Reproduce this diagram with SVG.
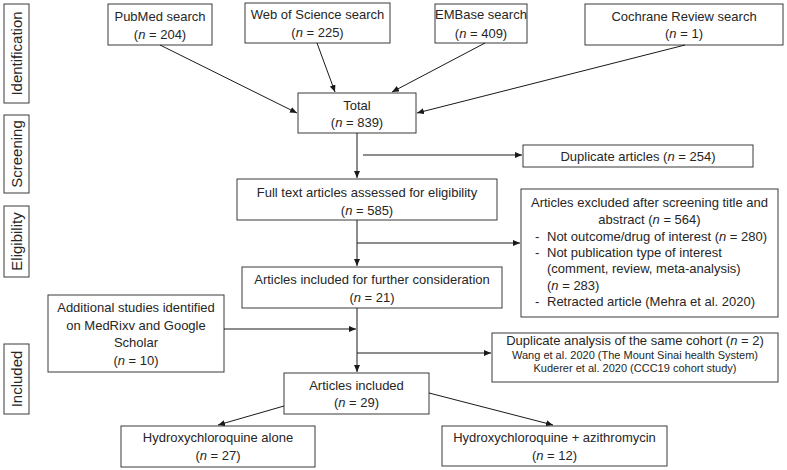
<svg xmlns="http://www.w3.org/2000/svg" width="787" height="470" viewBox="0 0 787 470">
<defs>
<marker id="ah" markerWidth="7" markerHeight="6" refX="7" refY="3" orient="auto" markerUnits="userSpaceOnUse">
<path d="M0,0 L7,3 L0,6 z" fill="#1a1a1a"/>
</marker>
<style>
rect{fill:#fff;stroke:#3a3a3a;stroke-width:1}
text{font-family:"Liberation Sans",Arial,sans-serif;font-size:13px;fill:#262626}
.c{text-anchor:middle}
.s{font-size:11px}
.side{font-size:15px;text-anchor:middle}
.con line{stroke:#1a1a1a;stroke-width:1;fill:none}
.arr{marker-end:url(#ah)}
</style>
</defs>
<rect width="787" height="470" style="fill:#fff;stroke:none"/>

<g id="stage-identification"><rect x="4" y="4" width="25" height="99"/><text class="side" transform="translate(22,53.5) rotate(-90)">Identification</text></g>
<g id="stage-screening"><rect x="4" y="115" width="25" height="78"/><text class="side" transform="translate(22,154) rotate(-90)">Screening</text></g>
<g id="stage-eligibility"><rect x="4" y="206" width="25" height="71"/><text class="side" transform="translate(22,241.5) rotate(-90)">Eligibility</text></g>
<g id="stage-included"><rect x="4" y="344" width="25" height="70"/><text class="side" transform="translate(22,379) rotate(-90)">Included</text></g>

<g id="pubmed"><rect x="108" y="4" width="104" height="41"/><text class="c" x="160" y="20.5">PubMed search</text><text class="c" x="160" y="38.5">(<tspan font-style="italic">n</tspan> = 204)</text></g>
<g id="wos"><rect x="245" y="3" width="145" height="40"/><text class="c" x="317.5" y="19">Web of Science search</text><text class="c" x="317.5" y="37">(<tspan font-style="italic">n</tspan> = 225)</text></g>
<g id="embase"><rect x="435" y="4" width="92" height="39"/><text class="c" x="481" y="19">EMBase search</text><text class="c" x="481" y="37.5">(<tspan font-style="italic">n</tspan> = 409)</text></g>
<g id="cochrane"><rect x="585" y="4" width="198" height="41"/><text class="c" x="684" y="20.5">Cochrane Review search</text><text class="c" x="684" y="38">(<tspan font-style="italic">n</tspan> = 1)</text></g>
<g id="total"><rect x="298" y="93" width="118" height="40"/><text class="c" x="357" y="109.5">Total</text><text class="c" x="357" y="126.5">(<tspan font-style="italic">n</tspan> = 839)</text></g>
<g id="duplicates"><rect x="523" y="145" width="230" height="22"/><text class="c" x="638" y="160.5">Duplicate articles (<tspan font-style="italic">n</tspan> = 254)</text></g>
<g id="fulltext"><rect x="237" y="179" width="260" height="41"/><text class="c" x="367" y="196.5">Full text articles assessed for eligibility</text><text class="c" x="367" y="214.5">(<tspan font-style="italic">n</tspan> = 585)</text></g>
<g id="excluded"><rect x="521" y="189" width="257" height="128"/>
<text class="c" x="649.5" y="206.5">Articles excluded after screening title and</text>
<text class="c" x="649.5" y="223.5">abstract (<tspan font-style="italic">n</tspan> = 564)</text>
<text x="535" y="240.5">-</text><text x="547" y="240.5">Not outcome/drug of interest (<tspan font-style="italic">n</tspan> = 280)</text>
<text x="535" y="256.5">-</text><text x="547" y="256.5">Not publication type of interest</text>
<text x="547" y="272.5">(comment, review, meta-analysis)</text>
<text x="547" y="289.5">(<tspan font-style="italic">n</tspan> = 283)</text>
<text x="535" y="305.5">-</text><text x="547" y="305.5">Retracted article (Mehra et al. 2020)</text>
</g>
<g id="further"><rect x="242" y="267" width="260" height="41"/><text class="c" x="372" y="283.5">Articles included for further consideration</text><text class="c" x="372" y="301.5">(<tspan font-style="italic">n</tspan> = 21)</text></g>
<g id="additional"><rect x="48" y="295" width="176" height="77"/>
<text class="c" x="136" y="312">Additional studies identified</text>
<text class="c" x="136" y="329.5">on MedRixv and Google</text>
<text class="c" x="136" y="347">Scholar</text>
<text class="c" x="136" y="365">(<tspan font-style="italic">n</tspan> = 10)</text></g>
<g id="dupanalysis"><rect x="492" y="333" width="286" height="49"/>
<text class="c" x="635" y="344.5">Duplicate analysis of the same cohort (<tspan font-style="italic">n</tspan> = 2)</text>
<text class="c s" x="635" y="359">Wang et al. 2020 (The Mount Sinai health System)</text>
<text class="c s" x="635" y="371.5">Kuderer et al. 2020 (CCC19 cohort study)</text></g>
<g id="included"><rect x="284" y="373" width="145" height="41"/><text class="c" x="356.5" y="389.5">Articles included</text><text class="c" x="356.5" y="406.5">(<tspan font-style="italic">n</tspan> = 29)</text></g>
<g id="hcq"><rect x="121" y="426" width="194" height="41"/><text class="c" x="218" y="441.5">Hydroxychloroquine alone</text><text class="c" x="218" y="459.5">(<tspan font-style="italic">n</tspan> = 27)</text></g>
<g id="hcqazi"><rect x="442" y="426" width="225" height="40"/><text class="c" x="554.5" y="442">Hydroxychloroquine + azithromycin</text><text class="c" x="554.5" y="459.5">(<tspan font-style="italic">n</tspan> = 12)</text></g>

<g id="connectors" class="con">
<line class="arr" x1="160" y1="45" x2="297" y2="113"/>
<line class="arr" x1="317" y1="43" x2="335" y2="92"/>
<line class="arr" x1="485" y1="43" x2="392" y2="92"/>
<line class="arr" x1="685" y1="45" x2="417" y2="113"/>
<line class="arr" x1="357" y1="133" x2="357" y2="178"/>
<line class="arr" x1="363" y1="155" x2="522" y2="155"/>
<line class="arr" x1="357" y1="220" x2="357" y2="266"/>
<line class="arr" x1="357" y1="243" x2="520" y2="243"/>
<line class="arr" x1="357" y1="308" x2="357" y2="372"/>
<line class="arr" x1="224" y1="329" x2="356" y2="329"/>
<line class="arr" x1="357" y1="353" x2="491" y2="353"/>
<line class="arr" x1="284" y1="406" x2="218" y2="425"/>
<line class="arr" x1="429" y1="393" x2="553" y2="425"/>
</g>
</svg>
